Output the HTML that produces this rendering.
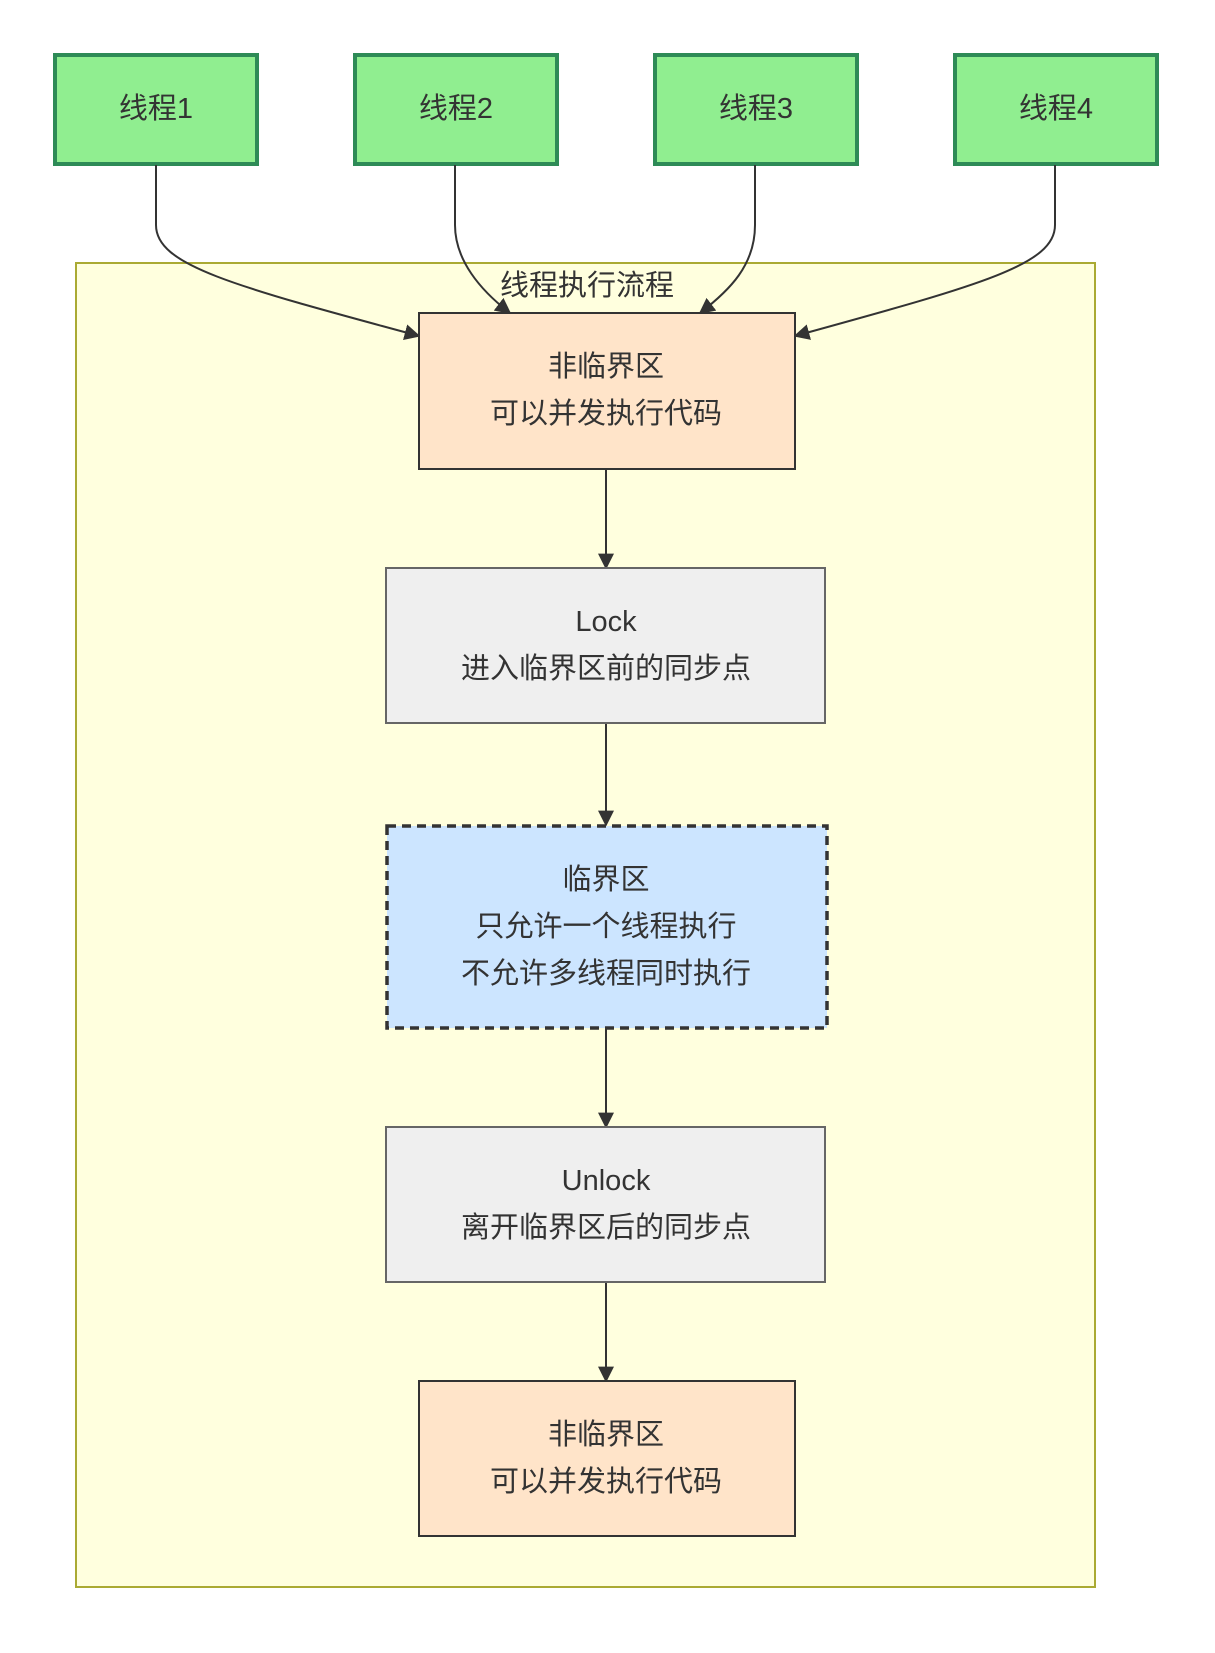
<!DOCTYPE html>
<html><head><meta charset="utf-8"><style>
html,body{margin:0;padding:0;background:#fff;}
svg text{font-family:"Liberation Sans","Noto Sans CJK SC",sans-serif;fill:#333;font-size:29px;text-anchor:middle;}
</style></head><body>
<svg width="1215" height="1648" viewBox="0 0 1215 1648" xmlns="http://www.w3.org/2000/svg">
<defs><marker id="a" viewBox="0 0 10 10" refX="9" refY="5" markerWidth="8" markerHeight="8" orient="auto-start-reverse" markerUnits="userSpaceOnUse"><path d="M0,0L10,5L0,10z" fill="#333"/></marker>
<marker id="b" viewBox="0 0 10 10" refX="9" refY="5" markerWidth="16" markerHeight="16" orient="auto" markerUnits="userSpaceOnUse"><path d="M0,0L10,5L0,10z" fill="#333"/></marker></defs>
<rect x="76" y="263" width="1019" height="1324" fill="#ffffde" stroke="#aaaa33" stroke-width="2"/>
<text x="587" y="295">线程执行流程</text>
<g fill="#90ee90" stroke="#2e8b57" stroke-width="4">
<rect x="55" y="55" width="202" height="109"/>
<rect x="355" y="55" width="202" height="109"/>
<rect x="655" y="55" width="202" height="109"/>
<rect x="955" y="55" width="202" height="109"/>
</g>
<text x="156" y="118">线程1</text><text x="456" y="118">线程2</text><text x="756" y="118">线程3</text><text x="1056" y="118">线程4</text>
<g fill="none" stroke="#333" stroke-width="2" marker-end="url(#b)">
<path d="M156,165 V225 C156,265 230,285 419,336"/>
<path d="M455,165 V225 C455,260 480,290 510,313"/>
<path d="M755,165 V225 C755,265 730,290 700,313"/>
<path d="M1055,165 V225 C1055,265 980,285 795,336"/>
<path d="M606,469 V568"/>
<path d="M606,723 V825"/>
<path d="M606,1029 V1127"/>
<path d="M606,1282 V1381"/>
</g>
<rect x="419" y="313" width="376" height="156" fill="#ffe4c9" stroke="#333" stroke-width="2"/>
<text x="606" y="376">非临界区</text><text x="606" y="423">可以并发执行代码</text>
<rect x="386" y="568" width="439" height="155" fill="#efefef" stroke="#666" stroke-width="2"/>
<text x="606" y="631">Lock</text><text x="606" y="678">进入临界区前的同步点</text>
<rect x="387" y="826" width="440" height="202" fill="#cce5ff" stroke="#333" stroke-width="3.5" stroke-dasharray="9,6"/>
<text x="606" y="889">临界区</text><text x="606" y="936">只允许一个线程执行</text><text x="606" y="983">不允许多线程同时执行</text>
<rect x="386" y="1127" width="439" height="155" fill="#efefef" stroke="#666" stroke-width="2"/>
<text x="606" y="1190">Unlock</text><text x="606" y="1237">离开临界区后的同步点</text>
<rect x="419" y="1381" width="376" height="155" fill="#ffe4c9" stroke="#333" stroke-width="2"/>
<text x="606" y="1444">非临界区</text><text x="606" y="1491">可以并发执行代码</text>
</svg>
</body></html>
